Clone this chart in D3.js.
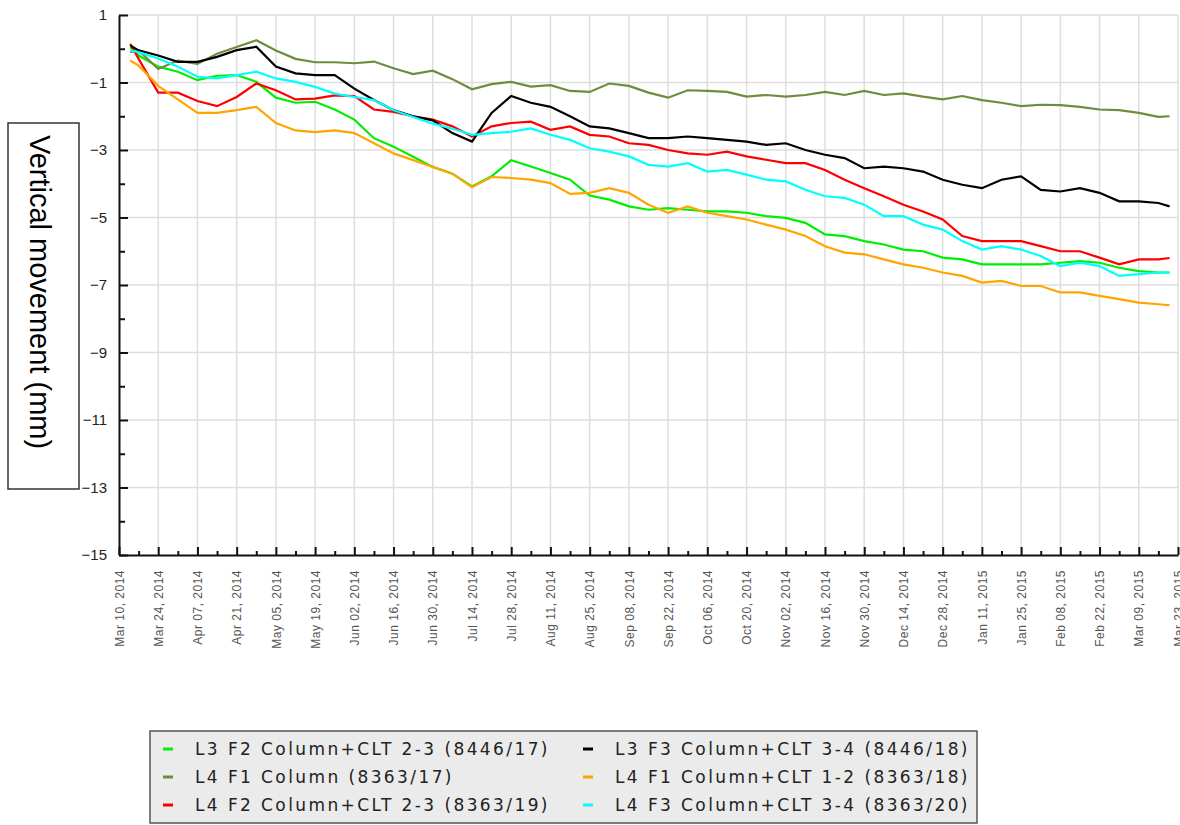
<!DOCTYPE html>
<html>
<head>
<meta charset="utf-8">
<script src="https://cdnjs.cloudflare.com/ajax/libs/d3/7.8.5/d3.min.js"></script>
<style>
  body { margin: 0; background: #fff; }
  svg { display: block; }
</style>
</head>
<body>
<script>
// ---- data (one sample per week) ----
var seriesNames = [
  "L3 F2 Column+CLT 2-3 (8446/17)",
  "L4 F1 Column (8363/17)",
  "L4 F2 Column+CLT 2-3 (8363/19)",
  "L3 F3 Column+CLT 3-4 (8446/18)",
  "L4 F1 Column+CLT 1-2 (8363/18)",
  "L4 F3 Column+CLT 3-4 (8363/20)"
];

// first sample 2014-03-14, then weekly from 2014-03-17, last sample 2015-03-20
var firstSample = "2014-03-14", weeklyStart = "2014-03-17", lastSample = "2015-03-20";

var l3f2 = [0.05, -0.2, -0.53, -0.68, -0.93, -0.8, -0.78, -0.98, -1.45, -1.6, -1.57, -1.8, -2.1, -2.65,
  -2.9, -3.2, -3.5, -3.7, -4.08, -3.78, -3.3, -3.49, -3.68, -3.88, -4.35, -4.47, -4.67, -4.77, -4.72,
  -4.77, -4.82, -4.82, -4.86, -4.96, -5.01, -5.16, -5.5, -5.55, -5.7, -5.8, -5.95, -6.0, -6.19, -6.24,
  -6.39, -6.39, -6.39, -6.39, -6.34, -6.29, -6.34, -6.49, -6.59, -6.63, -6.63];
var l4f1 = [-0.1, -0.05, -0.6, -0.35, -0.45, -0.15, 0.05, 0.25, -0.05, -0.3, -0.4, -0.4, -0.43, -0.38,
  -0.58, -0.75, -0.65, -0.9, -1.2, -1.05, -0.98, -1.12, -1.08, -1.25, -1.28, -1.03, -1.1, -1.3, -1.45,
  -1.23, -1.25, -1.28, -1.42, -1.37, -1.42, -1.37, -1.28, -1.37, -1.25, -1.37, -1.32, -1.42, -1.5, -1.4,
  -1.52, -1.6, -1.7, -1.66, -1.67, -1.72, -1.8, -1.82, -1.9, -2.02, -2.0];
var l4f2 = [0.15, -0.3, -1.3, -1.3, -1.55, -1.7, -1.43, -1.03, -1.23, -1.5, -1.48, -1.38, -1.4, -1.8,
  -1.87, -2.0, -2.1, -2.3, -2.6, -2.3, -2.2, -2.16, -2.4, -2.3, -2.55, -2.6, -2.8, -2.85, -3.0, -3.1,
  -3.14, -3.05, -3.19, -3.29, -3.39, -3.39, -3.59, -3.88, -4.13, -4.37, -4.62, -4.82, -5.06, -5.55, -5.7,
  -5.7, -5.7, -5.85, -6.0, -6.0, -6.19, -6.39, -6.24, -6.24, -6.2];
var l3f3 = [0.1, -0.05, -0.2, -0.39, -0.39, -0.24, -0.04, 0.06, -0.53, -0.73, -0.78, -0.78, -1.18, -1.52,
  -1.82, -2.0, -2.12, -2.5, -2.75, -1.9, -1.4, -1.6, -1.72, -2.0, -2.3, -2.36, -2.5, -2.65, -2.65, -2.6,
  -2.65, -2.7, -2.75, -2.85, -2.8, -3.0, -3.14, -3.24, -3.54, -3.49, -3.54, -3.64, -3.88, -4.03, -4.13,
  -3.88, -3.78, -4.18, -4.23, -4.13, -4.27, -4.52, -4.52, -4.57, -4.67];
var l4f1clt = [-0.35, -0.5, -1.1, -1.5, -1.9, -1.9, -1.82, -1.72, -2.2, -2.42, -2.47, -2.42, -2.5, -2.8,
  -3.1, -3.3, -3.5, -3.7, -4.1, -3.8, -3.83, -3.88, -3.98, -4.3, -4.27, -4.13, -4.27, -4.62, -4.86, -4.67,
  -4.86, -4.96, -5.06, -5.21, -5.36, -5.55, -5.85, -6.04, -6.09, -6.24, -6.39, -6.49, -6.63, -6.73, -6.93,
  -6.88, -7.03, -7.03, -7.22, -7.22, -7.32, -7.42, -7.52, -7.57, -7.6];
var l4f3 = [-0.05, -0.1, -0.29, -0.53, -0.83, -0.88, -0.78, -0.68, -0.88, -0.98, -1.13, -1.33, -1.43, -1.52,
  -1.82, -2.02, -2.22, -2.37, -2.55, -2.5, -2.46, -2.36, -2.55, -2.7, -2.95, -3.05, -3.19, -3.44, -3.49,
  -3.39, -3.64, -3.59, -3.73, -3.88, -3.93, -4.18, -4.37, -4.42, -4.62, -4.96, -4.96, -5.21, -5.36, -5.7,
  -5.95, -5.85, -5.95, -6.14, -6.44, -6.34, -6.44, -6.73, -6.68, -6.63, -6.63];

var seriesValues = [l3f2, l4f1, l4f2, l3f3, l4f1clt, l4f3];

var xTickLabels = ["Mar 10, 2014", "Mar 24, 2014", "Apr 07, 2014", "Apr 21, 2014", "May 05, 2014",
  "May 19, 2014", "Jun 02, 2014", "Jun 16, 2014", "Jun 30, 2014", "Jul 14, 2014", "Jul 28, 2014",
  "Aug 11, 2014", "Aug 25, 2014", "Sep 08, 2014", "Sep 22, 2014", "Oct 06, 2014", "Oct 20, 2014",
  "Nov 02, 2014", "Nov 16, 2014", "Nov 30, 2014", "Dec 14, 2014", "Dec 28, 2014", "Jan 11, 2015",
  "Jan 25, 2015", "Feb 08, 2015", "Feb 22, 2015", "Mar 09, 2015", "Mar 23, 2015"];
var yTicks = [1, -1, -3, -5, -7, -9, -11, -13, -15];

var lineColors = ["#00ee00", "#6e8c3e", "#ff0000", "#000000", "#ffa500", "#00ffff"];

// ---- layout ----
var width = 1180, height = 825;
var plotLeft = 119, plotRight = 1178, plotTop = 15, plotBottom = 555;

var parse = d3.utcParse("%Y-%m-%d");
var dates = [parse(firstSample)];
for (var i = 0; i < l3f2.length - 2; i++) {
  dates.push(d3.utcDay.offset(parse(weeklyStart), 7 * i));
}
dates.push(parse(lastSample));

var axisStart = parse("2014-03-10");
var axisEnd = parse("2015-03-23");

var x = d3.scaleUtc().domain([axisStart, axisEnd]).range([plotLeft, plotRight]);
var y = d3.scaleLinear().domain([-15, 1]).range([plotBottom, plotTop]);

var majorX = xTickLabels.map(function (d, i) { return d3.utcDay.offset(axisStart, 14 * i); });
var minorX = xTickLabels.slice(1).map(function (d, i) { return d3.utcDay.offset(axisStart, 14 * i + 7); });
var minorY = d3.range(0, -15, -2);

var svg = d3.select("body").append("svg")
  .attr("width", width)
  .attr("height", height)
  .style("font-family", "'DejaVu Sans', Verdana, sans-serif");

// grid
svg.append("g").selectAll("line")
  .data(majorX.slice(1))
  .enter().append("line")
  .attr("x1", function (d) { return x(d); })
  .attr("x2", function (d) { return x(d); })
  .attr("y1", plotTop).attr("y2", plotBottom)
  .attr("stroke", "#dedede").attr("stroke-width", 1.5);

svg.append("g").selectAll("line")
  .data(yTicks.slice(0, -1))
  .enter().append("line")
  .attr("x1", plotLeft).attr("x2", plotRight)
  .attr("y1", function (d) { return y(d); })
  .attr("y2", function (d) { return y(d); })
  .attr("stroke", "#dedede").attr("stroke-width", 1.5);

// series
var line = d3.line()
  .x(function (d) { return x(d.date); })
  .y(function (d) { return y(d.v); });

seriesValues.forEach(function (vals, s) {
  var pts = vals.map(function (v, i) { return { date: dates[i], v: v }; });
  svg.append("path")
    .datum(pts)
    .attr("d", line)
    .attr("fill", "none")
    .attr("stroke", lineColors[s])
    .attr("stroke-width", 2.2)
    .attr("stroke-linejoin", "miter");
});

// y axis
var yAxis = d3.axisLeft(y)
  .tickValues(yTicks)
  .tickSizeInner(-9)
  .tickSizeOuter(0)
  .tickPadding(12);

var gy = svg.append("g")
  .attr("transform", "translate(" + plotLeft + ",0)")
  .call(yAxis);
gy.select(".domain").attr("stroke", "#111").attr("stroke-width", 2);
gy.selectAll(".tick line").attr("stroke", "#111").attr("stroke-width", 2);
gy.selectAll("text")
  .style("font-family", "'Liberation Sans', Arial, sans-serif")
  .style("font-size", "15px")
  .attr("fill", "#222");

svg.append("g")
  .attr("transform", "translate(" + plotLeft + ",0)")
  .call(d3.axisLeft(y).tickValues(minorY).tickSizeInner(-6).tickSizeOuter(0).tickFormat(""))
  .call(function (g) { g.select(".domain").remove(); })
  .selectAll(".tick line").attr("stroke", "#111").attr("stroke-width", 2);

// x axis
var xAxis = d3.axisBottom(x)
  .tickValues(majorX)
  .tickSizeInner(-8)
  .tickSizeOuter(0)
  .tickPadding(0)
  .tickFormat(function (d, i) { return xTickLabels[i]; });

var gx = svg.append("g")
  .attr("transform", "translate(0," + plotBottom + ")")
  .call(xAxis);
gx.select(".domain").attr("stroke", "#111").attr("stroke-width", 2);
gx.selectAll(".tick line").attr("stroke", "#111").attr("stroke-width", 2);
gx.selectAll("text")
  .attr("transform", "rotate(-90)")
  .attr("x", -15)
  .attr("y", 0)
  .attr("dy", "0.35em")
  .style("text-anchor", "end")
  .style("font-size", "12px")
  .style("letter-spacing", "0.5px")
  .attr("fill", "#555");

svg.append("g")
  .attr("transform", "translate(0," + plotBottom + ")")
  .call(d3.axisBottom(x).tickValues(minorX).tickSizeInner(-4).tickSizeOuter(0).tickFormat(""))
  .call(function (g) { g.select(".domain").remove(); })
  .selectAll(".tick line").attr("stroke", "#111").attr("stroke-width", 2);

// y axis title in its box
svg.append("rect")
  .attr("x", 8).attr("y", 123)
  .attr("width", 71).attr("height", 366)
  .attr("fill", "#fff")
  .attr("stroke", "#333").attr("stroke-width", 1.5);

svg.append("text")
  .attr("transform", "translate(40,292) rotate(90)")
  .attr("text-anchor", "middle")
  .attr("dominant-baseline", "central")
  .style("font-family", "'Liberation Sans', Arial, sans-serif")
  .style("font-size", "29px")
  .attr("fill", "#000")
  .text("Vertical movement (mm)");

// legend
var legend = svg.append("g");
legend.append("rect")
  .attr("x", 150).attr("y", 731)
  .attr("width", 827).attr("height", 92)
  .attr("fill", "#ebebeb")
  .attr("stroke", "#555").attr("stroke-width", 1.5);

var legendItems = legend.selectAll(".item")
  .data(seriesNames)
  .enter().append("g")
  .attr("class", "item")
  .attr("transform", function (d, i) {
    var col = Math.floor(i / 3), row = i % 3;
    return "translate(" + (163 + col * 420) + "," + (749 + row * 28) + ")";
  });

legendItems.append("line")
  .attr("x1", 0).attr("x2", 10)
  .attr("stroke", function (d, i) { return lineColors[i]; })
  .attr("stroke-width", 3);

legendItems.append("text")
  .attr("x", 32)
  .attr("dy", "0.35em")
  .style("font-size", "17px")
  .style("letter-spacing", "2.4px")
  .attr("fill", "#222")
  .text(function (d) { return d; });
</script>
</body>
</html>
